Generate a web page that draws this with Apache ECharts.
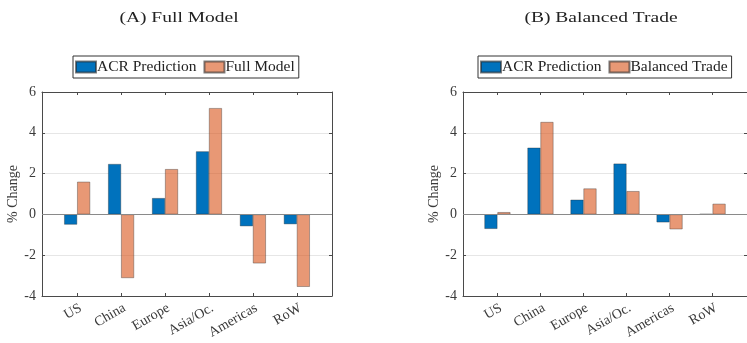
<!DOCTYPE html>
<html><head><meta charset="utf-8">
<script src="https://cdn.jsdelivr.net/npm/echarts@6/dist/echarts.min.js"></script>
<style>html,body{margin:0;padding:0;background:#fff}#c{width:747px;height:343px}</style>
</head><body><div id="c"></div>
<script>
const categories = ['US', 'China', 'Europe', 'Asia/Oc.', 'Americas', 'RoW'];
const panelTitles = ['(A) Full Model', '(B) Balanced Trade'];
const acrA = [-0.5, 2.47, 0.8, 3.09, -0.58, -0.48];
const fullModel = [1.6, -3.12, 2.22, 5.21, -2.4, -3.55];
const acrB = [-0.71, 3.27, 0.72, 2.49, -0.39, 0.02];
const balancedTrade = [0.11, 4.53, 1.27, 1.14, -0.73, 0.52];
const yTicks = [-4, -2, 0, 2, 4, 6];

const FONT = '"Liberation Serif", "DejaVu Serif", serif';
const TXT = '#3a3a3a';
const AX = '#4a4a4a';
const BLUE = '#0072BD';
const ORANGE = 'rgba(217,83,25,0.6)';
const xs = categories.map((c, i) => i + 1);
const pts = arr => arr.map((v, i) => [xs[i], v]);

const panels = [
  {left: 42, width: 290, names: ['ACR Prediction', 'Full Model'], data: [acrA, fullModel], legLeft: 73, titleX: 179},
  {left: 463, width: 289, names: ['ACR Prediction', 'Balanced Trade'], data: [acrB, balancedTrade], legLeft: 478, titleX: 601}
];

const grid = [], xAxis = [], yAxis = [], series = [], legend = [];
panels.forEach((p, k) => {
  grid.push({left: p.left, top: 92, width: p.width, height: 204, containLabel: false});
  const xBase = {type: 'value', gridIndex: k, min: 0.2, max: 6.8, splitLine: {show: false},
    axisLine: {show: true, onZero: false, lineStyle: {color: AX, width: 1}}};
  xAxis.push(Object.assign({}, xBase, {position: 'bottom',
    axisTick: {show: true, inside: true, length: 3, customValues: xs, lineStyle: {color: AX}},
    axisLabel: {show: true, customValues: xs, rotate: 30, margin: 5, color: TXT, fontFamily: FONT, fontSize: 14,
      verticalAlign: 'top',
      formatter: v => categories[Math.round(v) - 1] || ''}}));
  xAxis.push(Object.assign({}, xBase, {position: 'top',
    axisTick: {show: true, inside: true, length: 3, customValues: xs, lineStyle: {color: AX}},
    axisLabel: {show: false}}));
  const yBase = {type: 'value', gridIndex: k, min: -4, max: 6, interval: 2,
    axisLine: {show: true, lineStyle: {color: AX, width: 1}}};
  yAxis.push(Object.assign({}, yBase, {position: 'left',
    name: '% Change', nameLocation: 'middle', nameGap: 22,
    nameTextStyle: {color: TXT, fontFamily: FONT, fontSize: 14},
    axisTick: {show: true, inside: true, length: 3, lineStyle: {color: AX}},
    splitLine: {show: true, lineStyle: {color: '#e6e6e6', width: 1}},
    axisLabel: {color: TXT, fontFamily: FONT, fontSize: 14, margin: 6}}));
  yAxis.push(Object.assign({}, yBase, {position: 'right',
    axisTick: {show: true, inside: true, length: 3, lineStyle: {color: AX}},
    splitLine: {show: false}, axisLabel: {show: false}}));
  p.names.forEach((nm, j) => {
    series.push({
      type: 'bar', name: nm, xAxisIndex: 2 * k, yAxisIndex: 2 * k,
      data: pts(p.data[j]), barWidth: 13, barGap: '0%',
      itemStyle: {color: j === 0 ? BLUE : ORANGE, borderColor: 'rgba(40,40,40,0.6)', borderWidth: 0.6},
      emphasis: {disabled: true}, animation: false,
      markLine: j === 0 ? {symbol: 'none', silent: true, label: {show: false},
        lineStyle: {color: '#8a8a8a', width: 1, type: 'solid'}, data: [{yAxis: 0}]} : undefined
    });
  });
  legend.push({
    left: p.legLeft, top: 56, orient: 'horizontal', data: p.names.map(n => ({name: n, icon: 'rect'})),
    itemWidth: 20, itemHeight: 11, itemGap: 7, padding: [3, 4, 3, 2],
    borderColor: '#333', borderWidth: 1, selectedMode: false,
    textStyle: {color: '#222', fontFamily: FONT, fontSize: 15.5, lineHeight: 15, padding: [0, 0, 0, -4]},
    formatter: n => n
  });
});

const chart = echarts.init(document.getElementById('c'), null, {renderer: 'canvas'});
chart.setOption({
  animation: false,
  grid, xAxis, yAxis, series, legend,
  graphic: panelTitles.map((t, k) => ({
    type: 'text', x: panels[k].titleX, y: 18, scaleX: 1.3,
    style: {text: t, fill: '#222', font: '15px ' + FONT, align: 'center', verticalAlign: 'middle'}
  }))
});
</script></body></html>
